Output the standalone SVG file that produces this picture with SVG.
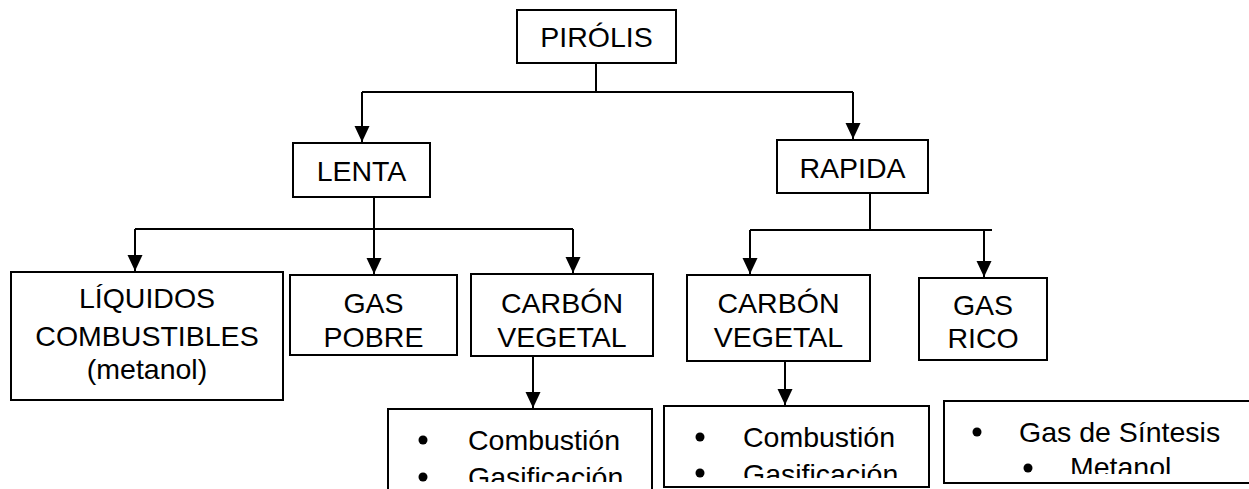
<svg xmlns="http://www.w3.org/2000/svg" width="1249" height="489" viewBox="0 0 1249 489">
  <style>
    .box { fill: #ffffff; stroke: #000000; stroke-width: 2; }
    .lbl { font-family: "Liberation Sans", Arial, sans-serif; font-size: 28.5px; fill: #000000; text-anchor: middle; }
    .itm { font-family: "Liberation Sans", Arial, sans-serif; font-size: 28.5px; fill: #000000; }
    .wire { fill: none; stroke: #000000; stroke-width: 2; }
    .dot { fill: #000000; }
  </style>
  <defs>
    <!-- arrowhead drawn along +x so orient="auto" follows the line direction -->
    <marker id="arrow" viewBox="0 0 16 16" refX="16" refY="8" markerWidth="16" markerHeight="16" markerUnits="userSpaceOnUse" orient="auto">
      <path d="M0,0.5 L16,8 L0,15.5 Z" fill="#000000"/>
    </marker>
    <clipPath id="clipList1"><rect x="388" y="409" width="264" height="73"/></clipPath>
    <clipPath id="clipList2"><rect x="664" y="406" width="265" height="72"/></clipPath>
    <clipPath id="clipList3"><rect x="944" y="401" width="305" height="73"/></clipPath>
  </defs>

  <!-- connectors -->
  <g id="connectors">
    <path class="wire" d="M596,63 V92"/>
    <path class="wire" d="M362,92 H853"/>
    <path class="wire" d="M362,92 V142" marker-end="url(#arrow)"/>
    <path class="wire" d="M853,92 V139" marker-end="url(#arrow)"/>

    <path class="wire" d="M374,197 V229"/>
    <path class="wire" d="M135,229 H573"/>
    <path class="wire" d="M135,229 V271" marker-end="url(#arrow)"/>
    <path class="wire" d="M374,229 V274" marker-end="url(#arrow)"/>
    <path class="wire" d="M573,229 V273" marker-end="url(#arrow)"/>

    <path class="wire" d="M870,194 V229"/>
    <path class="wire" d="M750,230 H992"/>
    <path class="wire" d="M750,230 V274" marker-end="url(#arrow)"/>
    <path class="wire" d="M984,230 V277" marker-end="url(#arrow)"/>

    <path class="wire" d="M533,356 V408" marker-end="url(#arrow)"/>
    <path class="wire" d="M785,361 V405" marker-end="url(#arrow)"/>
  </g>

  <g id="pirolisis">
    <rect class="box" x="517" y="10" width="159" height="53"/>
    <text class="lbl" x="596.5" y="47">PIRÓLIS</text>
  </g>

  <g id="lenta">
    <rect class="box" x="293" y="143" width="137" height="54"/>
    <text class="lbl" x="361.5" y="181">LENTA</text>
  </g>

  <g id="rapida">
    <rect class="box" x="777" y="140" width="151" height="53"/>
    <text class="lbl" x="852.5" y="178">RAPIDA</text>
  </g>

  <g id="liquidos">
    <rect class="box" x="11" y="272" width="272" height="128"/>
    <text class="lbl" x="147" y="308">LÍQUIDOS</text>
    <text class="lbl" x="147" y="346">COMBUSTIBLES</text>
    <text class="lbl" x="147" y="379">(metanol)</text>
  </g>

  <g id="gas-pobre">
    <rect class="box" x="290" y="275" width="167" height="80"/>
    <text class="lbl" x="373.5" y="313">GAS</text>
    <text class="lbl" x="373.5" y="347">POBRE</text>
  </g>

  <g id="carbon-lenta">
    <rect class="box" x="471" y="274" width="182" height="82"/>
    <text class="lbl" x="562" y="313">CARBÓN</text>
    <text class="lbl" x="562" y="347">VEGETAL</text>
  </g>

  <g id="carbon-rapida">
    <rect class="box" x="687" y="275" width="183" height="86"/>
    <text class="lbl" x="778.5" y="313">CARBÓN</text>
    <text class="lbl" x="778.5" y="347">VEGETAL</text>
  </g>

  <g id="gas-rico">
    <rect class="box" x="919" y="278" width="128" height="82"/>
    <text class="lbl" x="983" y="315">GAS</text>
    <text class="lbl" x="983" y="348">RICO</text>
  </g>

  <g id="usos-lenta">
    <path class="wire" d="M388,490 V409 H652 V490"/>
    <g clip-path="url(#clipList1)">
      <circle class="dot" cx="423" cy="440" r="4.5"/>
      <text class="itm" x="468" y="450">Combustión</text>
      <circle class="dot" cx="423" cy="477" r="4.5"/>
      <text class="itm" x="468" y="487">Gasificación</text>
    </g>
  </g>

  <g id="usos-rapida">
    <rect class="box" x="664" y="406" width="265" height="81"/>
    <g clip-path="url(#clipList2)">
      <circle class="dot" cx="700" cy="437" r="4.5"/>
      <text class="itm" x="743" y="447">Combustión</text>
      <circle class="dot" cx="700" cy="473" r="4.5"/>
      <text class="itm" x="743" y="484">Gasificación</text>
    </g>
  </g>

  <g id="usos-gas">
    <path class="wire" d="M1250,401 H944 V483 H1250"/>
    <g clip-path="url(#clipList3)">
      <circle class="dot" cx="977" cy="432" r="4.5"/>
      <text class="itm" x="1019" y="442">Gas de Síntesis</text>
      <circle class="dot" cx="1028" cy="468" r="4.5"/>
      <text class="itm" x="1070" y="477">Metanol</text>
    </g>
  </g>
</svg>
